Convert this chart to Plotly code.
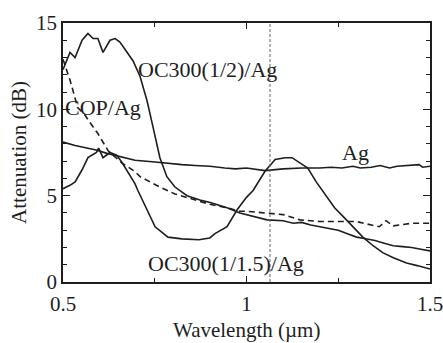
import plotly.graph_objects as go

# OC300(1/2)/Ag  (high peak curve)
wl_b = [0.500, 0.519, 0.533, 0.552, 0.568, 0.582, 0.595, 0.609, 0.628, 0.642, 0.655, 0.674,
        0.691, 0.710, 0.729, 0.745, 0.764, 0.783, 0.805, 0.838, 0.873, 0.901, 0.947, 0.982,
        1.037, 1.056, 1.100, 1.127, 1.150, 1.175, 1.200, 1.225, 1.250, 1.275, 1.300, 1.325,
        1.350, 1.375, 1.400, 1.425, 1.450, 1.475, 1.500]
att_b = [12.3, 13.3, 13.0, 14.0, 14.4, 14.1, 14.1, 13.3, 14.0, 14.1, 13.9, 13.3,
         12.8, 11.9, 10.5, 9.0, 7.2, 6.1, 5.5, 5.0, 4.75, 4.6, 4.3, 4.0,
         3.7, 3.6, 3.55, 3.4, 3.45, 3.3, 3.2, 3.1, 3.0, 2.8, 2.6, 2.5,
         2.4, 2.25, 2.1, 2.05, 2.0, 1.9, 1.8]

# OC300(1/1.5)/Ag
wl_a = [0.500, 0.519, 0.533, 0.552, 0.568, 0.591, 0.597, 0.609, 0.628, 0.646, 0.660, 0.696,
        0.704, 0.729, 0.751, 0.786, 0.824, 0.870, 0.900, 0.914, 0.947, 0.975, 1.000, 1.018,
        1.050, 1.078, 1.090, 1.105, 1.124, 1.146, 1.167, 1.190, 1.219, 1.240, 1.263, 1.290,
        1.317, 1.345, 1.371, 1.400, 1.436, 1.465, 1.493, 1.500]
att_a = [5.4, 5.6, 5.8, 6.5, 7.2, 7.5, 7.75, 7.2, 7.5, 7.35, 6.95, 5.7,
         5.3, 4.2, 3.2, 2.6, 2.5, 2.45, 2.55, 2.8, 3.2, 4.2, 4.9, 5.3,
         6.4, 7.1, 7.15, 7.2, 7.2, 6.9, 6.6, 5.8, 4.9, 4.3, 3.8, 3.2,
         2.6, 2.1, 1.7, 1.4, 1.1, 0.95, 0.8, 0.75]

# Ag
wl_ag = [0.500, 0.533, 0.568, 0.590, 0.620, 0.660, 0.696, 0.751, 0.790, 0.824, 0.860, 0.900,
         0.941, 0.970, 1.000, 1.030, 1.050, 1.100, 1.150, 1.200, 1.230, 1.260, 1.290, 1.310,
         1.340, 1.364, 1.390, 1.410, 1.440, 1.470, 1.480, 1.500]
att_ag = [8.1, 7.9, 7.75, 7.65, 7.45, 7.25, 7.05, 6.95, 6.85, 6.8, 6.75, 6.7,
          6.6, 6.55, 6.6, 6.5, 6.45, 6.55, 6.6, 6.6, 6.65, 6.6, 6.7, 6.6,
          6.65, 6.75, 6.6, 6.7, 6.75, 6.8, 6.65, 6.7]

# COP/Ag (dashed)
wl_cop = [0.500, 0.505, 0.519, 0.527, 0.540, 0.559, 0.568, 0.595, 0.614, 0.623, 0.660, 0.696,
          0.710, 0.764, 0.805, 0.838, 0.873, 0.900, 0.947, 0.982, 1.000, 1.056, 1.100, 1.146,
          1.200, 1.250, 1.300, 1.340, 1.362, 1.380, 1.400, 1.450, 1.500]
att_cop = [12.9, 12.6, 11.7, 11.1, 10.1, 9.7, 9.4, 8.6, 7.9, 7.6, 6.9, 6.4,
           6.1, 5.5, 5.1, 4.9, 4.7, 4.5, 4.3, 4.1, 4.1, 4.0, 3.9, 3.6,
           3.5, 3.5, 3.5, 3.3, 3.2, 3.55, 3.25, 3.4, 3.4]

marker_wl = 1.064

labels = ["OC300(1/2)/Ag", "COP/Ag", "Ag", "OC300(1/1.5)/Ag"]
label_x = [0.700, 0.500, 1.255, 0.727]
label_y = [12.3, 10.1, 7.5, 1.1]

x_title = "Wavelength (µm)"
y_title = "Attenuation (dB)"

FONT = "Liberation Serif"
INK = "#1e1e1e"

fig = go.Figure()
for wl, att, dash in [(wl_b, att_b, "solid"), (wl_a, att_a, "solid"),
                      (wl_ag, att_ag, "solid"), (wl_cop, att_cop, "6px,4px")]:
    fig.add_trace(go.Scatter(x=wl, y=att, mode="lines",
                             line=dict(color=INK, width=1.6, dash=dash),
                             showlegend=False, hoverinfo="skip"))

fig.add_shape(type="line", xref="x", yref="y", x0=marker_wl, x1=marker_wl, y0=0, y1=15,
              line=dict(color="#666666", width=1, dash="3px,2px"))

for t, x, y in zip(labels, label_x, label_y):
    fig.add_annotation(text=t, x=x, y=y, xref="x", yref="y", xanchor="left", yanchor="middle",
                       showarrow=False, font=dict(family=FONT, size=22, color=INK))

# x-axis title as an annotation sitting on the bottom edge of the figure
fig.add_annotation(text=x_title, x=0.5, y=0, xref="paper", yref="paper",
                   xanchor="center", yanchor="bottom", yshift=-61, showarrow=False,
                   borderpad=0, font=dict(family=FONT, size=21, color=INK))

axis_common = dict(showline=True, linecolor=INK, linewidth=1.5, mirror="allticks",
                   ticks="inside", tickcolor=INK, showgrid=False, zeroline=False,
                   automargin=False, ticklabeloverflow="allow",
                   tickfont=dict(family=FONT, size=21, color=INK))

fig.update_xaxes(range=[0.5, 1.5], tickvals=[0.5, 1.0, 1.5], ticktext=["0.5", "1", "1.5"],
                 ticklen=6, tickwidth=1, ticklabelstandoff=2,
                 minor=dict(tickvals=[0.75, 1.25], ticklen=4, ticks="inside", tickcolor=INK),
                 **axis_common)
fig.update_yaxes(range=[0, 15], tickvals=[0, 5, 10, 15], ticklen=7, tickwidth=1,
                 minor=dict(dtick=1, ticklen=4, ticks="inside", tickcolor=INK),
                 title=dict(text=y_title, font=dict(family=FONT, size=21, color=INK),
                            standoff=4),
                 **axis_common)

fig.update_layout(width=443, height=343, margin=dict(l=63, r=13, t=23, b=61),
                  plot_bgcolor="white", paper_bgcolor="white",
                  font=dict(family=FONT, color=INK))

fig.write_html("out.html")
